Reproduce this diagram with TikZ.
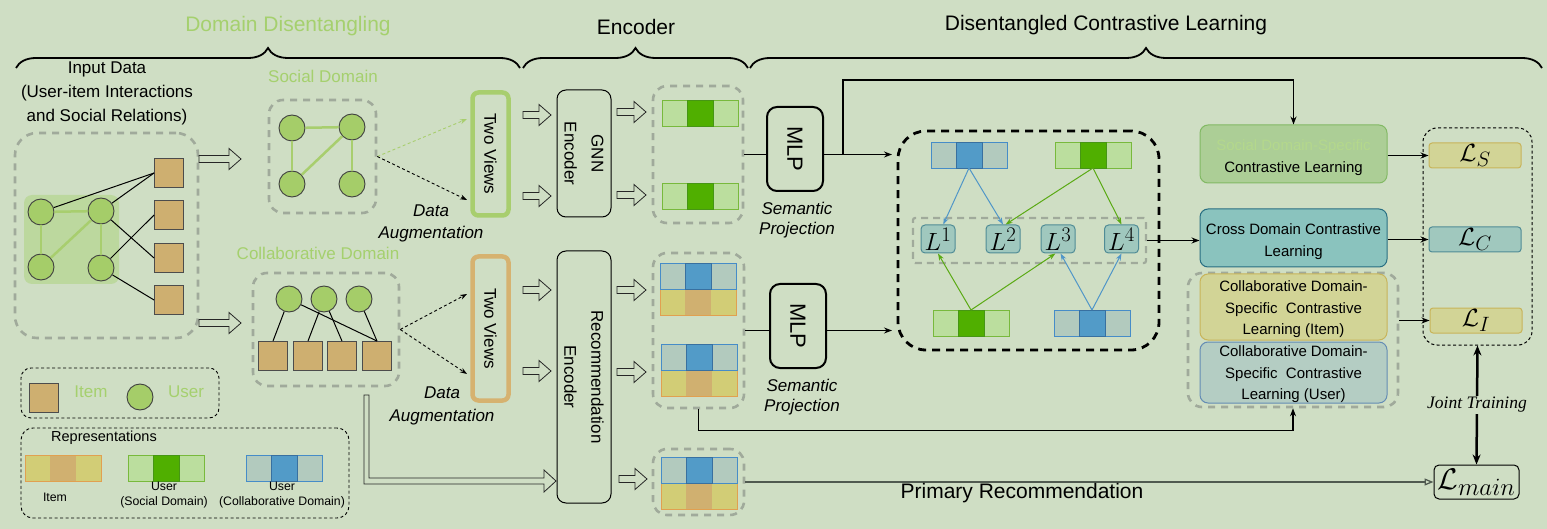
\documentclass[tikz,border=0pt]{standalone}
\usepackage[no-math]{fontspec}
\usepackage{graphicx}
\setmainfont{Liberation Sans}
\newfontfamily\tnr{Liberation Serif}
\usetikzlibrary{arrows.meta,decorations.pathreplacing,calc}

\definecolor{bg}{RGB}{207,222,196}
\definecolor{titlegreen}{RGB}{165,208,110}
\definecolor{nodegreen}{RGB}{165,205,105}
\definecolor{socedge}{RGB}{168,206,110}
\definecolor{shade}{RGB}{188,216,158}
\definecolor{itemtan}{RGB}{206,175,112}
\definecolor{greydash}{RGB}{160,170,155}
\definecolor{socl}{RGB}{187,222,158}
\definecolor{socd}{RGB}{80,175,0}
\definecolor{socbd}{RGB}{120,185,60}
\definecolor{socbdd}{RGB}{70,150,20}
\definecolor{bluel}{RGB}{178,202,190}
\definecolor{blued}{RGB}{82,155,200}
\definecolor{bluebd}{RGB}{70,140,200}
\definecolor{itemy}{RGB}{210,205,118}
\definecolor{itemt}{RGB}{208,176,112}
\definecolor{itembd}{RGB}{225,160,80}
\definecolor{tvtan}{RGB}{214,178,112}
\definecolor{lfill}{RGB}{160,200,190}
\definecolor{lbd}{RGB}{80,140,150}
\definecolor{sdsfill}{RGB}{172,206,150}
\definecolor{sdsbd}{RGB}{130,185,100}
\definecolor{sdstext}{RGB}{180,216,140}
\definecolor{crossfill}{RGB}{138,195,190}
\definecolor{crossbd}{RGB}{40,110,130}
\definecolor{cifill}{RGB}{210,212,150}
\definecolor{cibd}{RGB}{200,180,90}
\definecolor{cufill}{RGB}{180,205,195}
\definecolor{cubd}{RGB}{100,140,180}
\definecolor{arrblue}{RGB}{80,150,200}
\definecolor{arrgreen}{RGB}{90,170,20}
\definecolor{mainline}{RGB}{80,90,80}

\newcommand\hollowarrow[3]{\draw[harrow] (#1,#2-3.5) -- (#1+#3-12,#2-3.5) -- (#1+#3-12,#2-10.5) -- (#1+#3,#2) -- (#1+#3-12,#2+10.5) -- (#1+#3-12,#2+3.5) -- (#1,#2+3.5) -- cycle;}

\tikzset{
  gdash/.style={draw=greydash, line width=2.6, dash pattern=on 7pt off 6pt, rounded corners=14, inner sep=0},
  user/.style={circle, draw=black!75, line width=0.9, fill=nodegreen, minimum size=26, inner sep=0},
  item/.style={rectangle, draw=black!70, line width=0.9, fill=itemtan, minimum size=29, inner sep=0},
  sedge/.style={draw=socedge, line width=2.5},
  bedge/.style={draw=black, line width=1},
  harrow/.style={draw=black!85, line width=0.8, fill=bg},
  tipk/.style={-{Stealth[length=8pt,width=6pt]}},
  conn/.style={draw=black, line width=1.2},
  augarr/.style={draw=black, line width=0.9, dash pattern=on 3pt off 2.5pt, -{Stealth[length=7pt,width=5pt]}},
  encbox/.style={draw=black, line width=1, rounded corners=9, inner sep=0, rotate=-90, align=center, font=\fontsize{17}{27}\selectfont},
  mlpbox/.style={draw=black, line width=2, rounded corners=10, inner sep=0, minimum width=56, minimum height=84, font=\fontsize{22}{22}\selectfont},
  tvbox/.style={line width=4.5, rounded corners=6, inner sep=0, rotate=-90, minimum height=36, font=\fontsize{17}{17}\selectfont},
  lbox/.style={draw=lbd, fill=lfill, line width=1, rounded corners=4, minimum width=34, minimum height=28, inner sep=0, font=\fontsize{24.88}{25}\selectfont},
  rbox/.style={line width=1, rounded corners=8, minimum width=187, inner sep=0},
  rtext/.style={align=center, font=\fontsize{15}{22}\selectfont},
  lossbox/.style={line width=1, rounded corners=3, minimum width=92, minimum height=25, inner sep=0, font=\fontsize{24.88}{25}\selectfont},
  ital/.style={align=center, font=\fontsize{17}{20}\selectfont\itshape},
  socbar/.pic={
    \fill[socl] (0,0) rectangle (76,26);
    \fill[socd] (25,0) rectangle (51,26);
    \draw[socbd, line width=0.7] (0,0) rectangle (76,26);
    \draw[socbdd, line width=0.7] (25,0) rectangle (51,26);
    \coordinate (-top) at (38,0);
    \coordinate (-bot) at (38,26);
  },
  bluebar/.pic={
    \fill[bluel] (0,0) rectangle (76,26);
    \fill[blued] (25,0) rectangle (51,26);
    \draw[bluebd, line width=0.7] (0,0) rectangle (76,26);
    \draw[bluebd!80!black, line width=0.7] (25,0) rectangle (51,26);
    \coordinate (-top) at (38,0);
    \coordinate (-bot) at (38,26);
  },
  itemrow/.pic={
    \fill[itemy] (0,0) rectangle (76,26);
    \fill[itemt] (25,0) rectangle (51,26);
    \draw[itembd, line width=0.6] (0,0) rectangle (76,26);
  },
  colbar/.pic={
    \pic at (0,26) {itemrow};
    \pic at (0,0) {bluebar};
  },
}

\begin{document}
\begin{tikzpicture}[x=1pt,y=-1pt]
\useasboundingbox (0,0) rectangle (1547,529);
\fill[bg] (0,0) rectangle (1547,529);

% ---------- titles and braces ----------
\node[text=titlegreen, font=\fontsize{21}{21}\selectfont] (t1) at (288,26) {Domain Disentangling};
\node[font=\fontsize{21}{21}\selectfont] (t2) at (636,27) {Encoder};
\node[font=\fontsize{21}{21}\selectfont] (t3) at (1106,25) {Disentangled Contrastive Learning};
\draw[line width=1.8, decorate, decoration={brace, amplitude=20pt}] (16,68) -- (520,68);
\draw[line width=1.8, decorate, decoration={brace, amplitude=20pt}] (523,68) -- (748,68);
\draw[line width=1.8, decorate, decoration={brace, amplitude=20pt}] (750,68) -- (1542,68);

% ---------- input data ----------
\node[align=center, font=\fontsize{17}{24}\selectfont] (intext) at (107,93) {Input Data\\(User-item Interactions\\and Social Relations)};
\node[gdash, rounded corners=22, minimum width=183, minimum height=205] (inbox) at (106.5,235.5) {};
\node[fill=shade, rounded corners=8, minimum width=95, minimum height=89, inner sep=0] (inshade) at (71.5,239.5) {};
\node[user] (iu1) at (41,212) {};
\node[user] (iu2) at (101,211) {};
\node[user] (iu3) at (41,267) {};
\node[user] (iu4) at (101,268) {};
\node[item] (ii1) at (169,173) {};
\node[item] (ii2) at (169,215) {};
\node[item] (ii3) at (169,258) {};
\node[item] (ii4) at (169,300) {};
\draw[sedge] (iu1) -- (iu2);
\draw[sedge] (iu1) -- (iu3);
\draw[sedge] (iu2) -- (iu3);
\draw[sedge] (iu2) -- (iu4);
\draw[bedge] (iu1) -- (ii1.west);
\draw[bedge] (iu2) -- (ii1.west);
\draw[bedge] (iu2) -- (ii3.west);
\draw[bedge] (iu4) -- (ii2.west);
\draw[bedge] (iu4) -- (ii4.west);
\hollowarrow{199}{159}{42}
\hollowarrow{199}{323}{42}

% ---------- social domain ----------
\node[text=titlegreen, font=\fontsize{17}{17}\selectfont] (soclab) at (323,76) {Social Domain};
\node[gdash, minimum width=107, minimum height=113] (socbox) at (322.5,156.5) {};
\node[user] (s1) at (292,128) {};
\node[user] (s2) at (352,127) {};
\node[user] (s3) at (292,184) {};
\node[user] (s4) at (352,184) {};
\draw[sedge] (s1) -- (s2);
\draw[sedge] (s1) -- (s3);
\draw[sedge] (s2) -- (s3);
\draw[sedge] (s2) -- (s4);
\node[tvbox, draw=socedge, minimum width=123] (tv1) at (490.5,154) {Two Views};
\coordinate (sa1) at (467,119);
\coordinate (sa2) at (467,200);
\draw[augarr, draw=socedge] (socbox.east) -- (sa1);
\draw[augarr] (socbox.east) -- (sa2);
\node[ital, font=\fontsize{17}{22}\selectfont\itshape] (aug1) at (431,223) {Data\\Augmentation};

% ---------- collaborative domain ----------
\node[text=titlegreen, font=\fontsize{17}{17}\selectfont] (collab) at (318,253) {Collaborative Domain};
\node[gdash, minimum width=146, minimum height=113] (colbox) at (326,329.5) {};
\node[user] (cu1) at (289,299) {};
\node[user] (cu2) at (324,299) {};
\node[user] (cu3) at (359,299) {};
\node[item] (ci1) at (273,356) {};
\node[item] (ci2) at (308,356) {};
\node[item] (ci3) at (342,356) {};
\node[item] (ci4) at (377,356) {};
\draw[bedge] (cu1) -- (ci1.north);
\draw[bedge] (cu1) -- (ci4.north);
\draw[bedge] (cu2) -- (ci2.north);
\draw[bedge] (cu2) -- (ci3.north);
\draw[bedge] (cu3) -- (ci4.north);
\node[tvbox, draw=tvtan, minimum width=144] (tv2) at (490.5,328.5) {Two Views};
\coordinate (ca1) at (467,294);
\coordinate (ca2) at (467,374);
\draw[augarr] (colbox.east) -- (ca1);
\draw[augarr] (colbox.east) -- (ca2);
\node[ital, font=\fontsize{17}{23}\selectfont\itshape] (aug2) at (442,405.5) {Data\\Augmentation};

% long double arrow to recommendation encoder
\draw[harrow] (364,395) -- (369,395) -- (369,478) -- (544,478) -- (544,470) -- (556,481) -- (544,492) -- (544,484) -- (364,484) -- cycle;

% ---------- legends ----------
\node[draw=black, line width=0.9, dash pattern=on 3pt off 2.5pt, rounded corners=10, minimum width=198, minimum height=50, inner sep=0] (leg1) at (120,393) {};
\node[item] (legitem) at (43.5,397.5) {};
\node[text=titlegreen, font=\fontsize{17}{17}\selectfont] (legitemt) at (91,392) {Item};
\node[user] (leguser) at (140,397) {};
\node[text=titlegreen, font=\fontsize{17}{17}\selectfont] (legusert) at (186,392) {User};

\node[draw=black, line width=0.9, dash pattern=on 3pt off 2.5pt, rounded corners=12, minimum width=328, minimum height=90, inner sep=0] (leg2) at (185,473) {};
\node[font=\fontsize{14.5}{14.5}\selectfont] (reptitle) at (104,438) {Representations};
\pic (lb1) at (25,455) {itemrow};
\pic (lb2) at (128,455) {socbar};
\pic (lb3) at (246,455) {bluebar};
\node[font=\fontsize{12.3}{12.3}\selectfont] (lt1) at (55,497) {Item};
\node[align=center, font=\fontsize{12.3}{15}\selectfont] (lt2) at (164,495) {User\\(Social Domain)};
\node[align=center, font=\fontsize{12.3}{15}\selectfont] (lt3) at (282,495) {User\\(Collaborative Domain)};

% ---------- encoders ----------
\node[encbox, minimum width=127, minimum height=54] (gnn) at (584,153.5) {GNN\\Encoder};
\node[encbox, minimum width=252, minimum height=54] (rec) at (584,377) {Recommendation\\Encoder};
\hollowarrow{523}{115}{28}
\hollowarrow{523}{196}{28}
\hollowarrow{617}{112}{29}
\hollowarrow{617}{195}{29}
\hollowarrow{523}{290}{28}
\hollowarrow{523}{371}{28}
\hollowarrow{617}{290}{29}
\hollowarrow{617}{372}{29}
\hollowarrow{619}{479}{28}

% ---------- representations ----------
\node[gdash, minimum width=90, minimum height=137] (socrep) at (698,154.5) {};
\pic (sr1) at (662,100) {socbar};
\pic (sr2) at (662,183) {socbar};
\node[gdash, minimum width=91, minimum height=155] (colrep) at (698.5,330.5) {};
\pic (cr1) at (660,263) {colbar};
\pic (cr2) at (661,344) {colbar};
\node[gdash, minimum width=91, minimum height=66] (mainrep) at (698.5,482) {};
\pic (mr1) at (661,457) {colbar};

% ---------- MLPs ----------
\node[mlpbox] (mlp1) at (795,149) {\rotatebox{-90}{MLP}};
\node[mlpbox] (mlp2) at (798,326) {\rotatebox{-90}{MLP}};
\node[ital] (sp1) at (797,220) {Semantic\\Projection};
\node[ital] (sp2) at (802,397) {Semantic\\Projection};

\coordinate (in1) at (892,154.5);
\coordinate (in2) at (892,330.5);
\coordinate (br1) at (843,154.5);
\coordinate (top1) at (843,80);
\draw[conn] (socrep.east) -- (mlp1.west |- socrep.east);
\draw[conn, tipk] (mlp1.east |- socrep.east) -- (in1);
\draw[conn] (colrep.east) -- (mlp2.west |- colrep.east);
\draw[conn, tipk] (mlp2.east |- colrep.east) -- (in2);

% ---------- contrastive box ----------
\node[draw=black, line width=2.8, dash pattern=on 8pt off 6pt, rounded corners=28, minimum width=261, minimum height=219, inner sep=0] (cbox) at (1028.5,240.5) {};
\node[draw=greydash, line width=2.2, dash pattern=on 7pt off 5pt, rounded corners=2, minimum width=233, minimum height=45, inner sep=0] (lgroup) at (1029.5,240.5) {};
\node[lbox] (L1) at (938,239) {$L^1$};
\node[lbox] (L2) at (1003,239) {$L^2$};
\node[lbox] (L3) at (1058,239) {$L^3$};
\node[lbox] (L4) at (1121.5,239) {$L^4$};
\pic (tl) at (931,142) {bluebar};
\pic (tr) at (1055,142) {socbar};
\pic (bl) at (933,310) {socbar};
\pic (br) at (1054,310) {bluebar};
\tikzset{ba/.style={draw=arrblue, line width=1, -{Stealth[length=7pt,width=5pt]}},
         ga/.style={draw=arrgreen, line width=1, -{Stealth[length=7pt,width=5pt]}}}
\draw[ba] (tl-bot) -- (L1.70);
\draw[ba] (tl-bot) -- (L2.north);
\draw[ga] (tr-bot) -- (L2.80);
\draw[ga] (tr-bot) -- (L4.north);
\draw[ga] (bl-top) -- (L1.south);
\draw[ga] (bl-top) -- (L3.-100);
\draw[ba] (br-top) -- (L3.-80);
\draw[ba] (br-top) -- (L4.south);

% ---------- right column ----------
\node[rbox, draw=sdsbd, fill=sdsfill, minimum height=58] (sds) at (1293.5,154) {};
\node[rtext] (sdst) at (1293.5,157.5) {\textcolor{sdstext}{Social Domain-Specific}\\Contrastive Learning};
\node[rbox, draw=crossbd, fill=crossfill, minimum height=58] (cross) at (1293.5,238) {};
\node[rtext] (crosst) at (1293.5,242) {Cross Domain Contrastive\\Learning};
\node[gdash, minimum width=210, minimum height=134] (cgrp) at (1293,340) {};
\node[rbox, draw=cibd, fill=cifill, minimum height=66] (ci) at (1293.5,307) {};
\node[rtext, font=\fontsize{15}{21.5}\selectfont] (cit) at (1293.5,309.5) {Collaborative Domain-\\Specific\ \ Contrastive\\Learning (Item)};
\node[rbox, draw=cubd, fill=cufill, minimum height=61] (cu) at (1293.5,372.5) {};
\node[rtext, font=\fontsize{15}{21.5}\selectfont] (cut) at (1293.5,374.5) {Collaborative Domain-\\Specific\ \ Contrastive\\Learning (User)};

\draw[conn, tipk] (br1) -- (top1) -| (sds.north);
\draw[conn, tipk] (lgroup.east) -- (lgroup.east -| cross.west);
\draw[conn, tipk] (colrep.south) -- ++(0,21) -| (cgrp.south);

% ---------- losses ----------
\node[draw=black, line width=1, dash pattern=on 3pt off 2.5pt, rounded corners=14, minimum width=109, minimum height=217, inner sep=0] (lossgrp) at (1477.5,236.5) {};
\node[lossbox, draw=cibd, fill=cifill] (LS) at (1475,155.5) {$\mathcal{L}_S$};
\node[lossbox, draw=lbd, fill=lfill] (LC) at (1475,239.5) {$\mathcal{L}_C$};
\node[lossbox, draw=cibd, fill=cifill] (LI) at (1476,320.5) {$\mathcal{L}_I$};
\node[draw=black, line width=1, rounded corners=5, minimum width=85, minimum height=34, inner sep=0, font=\fontsize{24.88}{25}\selectfont] (Lmain) at (1476.5,482) {\scalebox{1.2}{$\mathcal{L}_{main}$}};

\draw[conn, tipk] (sds.east |- LS.west) -- (LS.west);
\draw[conn, tipk] (cross.east |- LC.west) -- (LC.west);
\draw[conn, tipk] (cgrp.east |- LI.west) -- (LI.west);
\draw[line width=2.5, {Stealth[length=10pt,width=8pt]}-{Stealth[length=10pt,width=8pt]}] (Lmain.north) -- (lossgrp.south) node[midway, fill=bg, inner sep=1, font=\fontsize{17.5}{17.5}\selectfont\tnr\itshape] (jt) {Joint Training};

\draw[draw=mainline, line width=1.3, -{Triangle[open,length=9pt,width=7pt]}] (mainrep.east) -- (Lmain.west);
\node[font=\fontsize{21}{21}\selectfont] (prim) at (1022,493) {Primary Recommendation};
\end{tikzpicture}
\end{document}
